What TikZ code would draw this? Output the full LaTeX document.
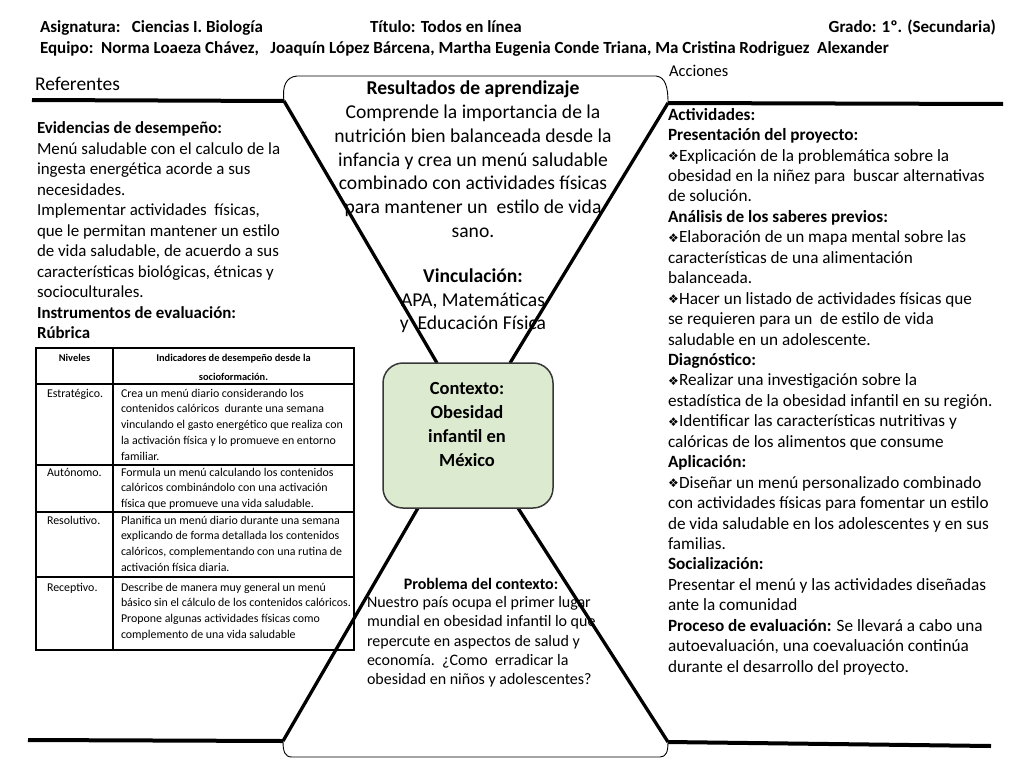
\documentclass[tikz,border=0pt]{standalone}
\usepackage{fontspec}
\setmainfont{Carlito}
\newfontfamily\symfont{DejaVu Sans}
\definecolor{boxgreen}{RGB}{220,234,208}
\definecolor{boxedge}{RGB}{55,55,55}
\newcommand\bul{\raisebox{0.5pt}{\symfont\fontsize{12}{12}\selectfont\char"2756}\hspace{0.3pt}}
\newcommand\tstrut{\rule{0pt}{1em}}
\begin{document}
\begin{tikzpicture}[x=1pt,y=-1pt,
  every node/.style={inner sep=0pt,outer sep=0pt},
  bar/.style={line width=4pt},
  diag/.style={line width=3.3pt},
  capline/.style={line width=0.9pt},
  blockl/.style={anchor=north west,align=left},
  blockc/.style={anchor=north,align=center},
  tab/.style={line width=1.1pt},
  hdr/.style={font=\fontsize{17}{20}\selectfont\bfseries},
  tabtxt/.style={font=\fontsize{11.9}{15.8}\selectfont}]
\useasboundingbox (0,0) rectangle (1024,768);

% header
\node[anchor=base west,hdr] (asig) at (40,33) {Asignatura:\ \ \ Ciencias I. Biología};
\node[anchor=base west,hdr] (tit) at (370,33) {Título: Todos en línea};
\node[anchor=base east,hdr] (grado) at (996,33) {Grado: 1º. (Secundaria)};
\node[anchor=base west,hdr] (equipo) at (40,53) {Equipo:\ \ Norma Loaeza Chávez,\ \ \ Joaquín López Bárcena, Martha Eugenia Conde Triana, Ma Cristina Rodriguez\ \ Alexander};

% geometry coordinates
\coordinate (tl) at (284,101);
\coordinate (tr) at (668,103);
\coordinate (bl) at (283,741);
\coordinate (br) at (668,742);
\coordinate (lineTL) at (32,100);
\coordinate (lineTR) at (1003,104);
\coordinate (lineBL) at (28,740);
\coordinate (lineBR) at (991,746);
\coordinate (ctxTL) at (437,363);
\coordinate (ctxTR) at (510,363);
\coordinate (ctxBL) at (418,508);
\coordinate (ctxBR) at (518,508);

% thick lines
\draw[bar] (lineTL) -- (tl);
\draw[bar] (tr) -- (lineTR);
\draw[bar] (lineBL) -- (bl);
\draw[bar] (br) -- (lineBR);
\draw[diag] (tl) -- (ctxTL);
\draw[diag] (tr) -- (ctxTR);
\draw[diag] (ctxBL) -- (bl);
\draw[diag] (ctxBR) -- (br);

% caps
\draw[capline] (tl) .. controls (282,86) and (286,77) .. (297,76) -- (656,76) .. controls (665,77) and (668,86) .. (tr);
\draw[capline] (bl) .. controls (283,752) and (285,757) .. (292,757) -- (660,757) .. controls (666,757) and (668,752) .. (br);

% context box
\node[draw=boxedge,line width=1.5pt,fill=boxgreen,rounded corners=20pt,minimum width=170pt,minimum height=145pt] (ctx) at (468,435.5) {};
\node[blockc,font=\fontsize{18.5}{24.3}\selectfont\bfseries] (ctxtext) at (467,375.5) {\tstrut Contexto:\\ Obesidad\\ infantil en\\ México};

% left column
\node[anchor=base west,font=\fontsize{19.5}{22}\selectfont] (ref) at (35,90) {Referentes};
\node[blockl,font=\fontsize{16.9}{20.5}\selectfont] (evid) at (37,117) {\tstrut\textbf{Evidencias de desempeño:}\\
Menú saludable con el calculo de la\\
ingesta energética acorde a sus\\
necesidades.\\
Implementar actividades\ \ físicas,\\
que le permitan mantener un estilo\\
de vida saludable, de acuerdo a sus\\
características biológicas, étnicas y\\
socioculturales.\\
\textbf{Instrumentos de evaluación:}\\
\textbf{Rúbrica}};

% table
\draw[tab] (36,348) rectangle (354,650);
\draw[tab] (113,348) -- (113,650);
\draw[tab] (36,384) -- (354,384);
\draw[tab] (36,465) -- (354,465);
\draw[tab] (36,512) -- (354,512);
\draw[tab] (36,577) -- (354,577);
\node[anchor=base,font=\fontsize{10.4}{18}\selectfont\bfseries] (hniv) at (74.5,361) {Niveles};
\node[blockc,font=\fontsize{10.4}{19}\selectfont\bfseries] (hind) at (233.5,350.6) {\tstrut Indicadores de desempeño desde la\\ socioformación.};
\node[anchor=base west,tabtxt] (n1) at (47,397) {Estratégico.};
\node[anchor=base west,tabtxt] (n2) at (47,476) {Autónomo.};
\node[anchor=base west,tabtxt] (n3) at (47,524) {Resolutivo.};
\node[anchor=base west,tabtxt] (n4) at (47,591) {Receptivo.};
\node[blockl,tabtxt] (d1) at (121,385.1) {\tstrut Crea un menú diario considerando los\\
contenidos calóricos\ \ durante una semana\\
vinculando el gasto energético que realiza con\\
la activación física y lo promueve en entorno\\
familiar.};
\node[blockl,tabtxt] (d2) at (121,464.1) {\tstrut Formula un menú calculando los contenidos\\
calóricos combinándolo con una activación\\
física que promueve una vida saludable.};
\node[blockl,tabtxt] (d3) at (121,512.1) {\tstrut Planifica un menú diario durante una semana\\
explicando de forma detallada los contenidos\\
calóricos, complementando con una rutina de\\
activación física diaria.};
\node[blockl,tabtxt] (d4) at (121,579.1) {\tstrut Describe de manera muy general un menú\\
básico sin el cálculo de los contenidos calóricos.\\
Propone algunas actividades físicas como\\
complemento de una vida saludable};

% center top
\node[blockc,font=\fontsize{19.6}{23.8}\selectfont] (res) at (473,75) {\tstrut\textbf{Resultados de aprendizaje}\\
Comprende la importancia de la\\
nutrición bien balanceada desde la\\
infancia y crea un menú saludable\\
combinado con actividades físicas\\
para mantener un\ \ estilo de vida\\
sano.\\[21pt]
\textbf{Vinculación:}\\
APA, Matemáticas\\
y\ \ Educación Física};

% bottom center
\node[anchor=base,font=\fontsize{16}{19.3}\selectfont\bfseries] (prob) at (481,589) {Problema del contexto:};
\node[blockl,font=\fontsize{16}{19.3}\selectfont] (probtext) at (367,591.5) {\tstrut Nuestro país ocupa el primer lugar\\
mundial en obesidad infantil lo que\\
repercute en aspectos de salud y\\
economía.\ \ ¿Como\ \ erradicar la\\
obesidad en niños y adolescentes?};

% right column
\node[anchor=base west,font=\fontsize{16.5}{18}\selectfont] (acc) at (669,77) {Acciones};
\node[blockl,font=\fontsize{17.2}{20.44}\selectfont] (act) at (668,103) {\tstrut\textbf{Actividades:}\\
\textbf{Presentación del proyecto:}\\
\bul Explicación de la problemática sobre la\\
obesidad en la niñez para\ \ buscar alternativas\\
de solución.\\
\textbf{Análisis de los saberes previos:}\\
\bul Elaboración de un mapa mental sobre las\\
características de una alimentación\\
balanceada.\\
\bul Hacer un listado de actividades físicas que\\
se requieren para un\ \ de estilo de vida\\
saludable en un adolescente.\\
\textbf{Diagnóstico:}\\
\bul Realizar una investigación sobre la\\
estadística de la obesidad infantil en su región.\\
\bul Identificar las características nutritivas y\\
calóricas de los alimentos que consume\\
\textbf{Aplicación:}\\
\bul Diseñar un menú personalizado combinado\\
con actividades físicas para fomentar un estilo\\
de vida saludable en los adolescentes y en sus\\
familias.\\
\textbf{Socialización:}\\
Presentar el menú y las actividades diseñadas\\
ante la comunidad\\
\textbf{Proceso de evaluación:} Se llevará a cabo una\\
autoevaluación, una coevaluación continúa\\
durante el desarrollo del proyecto.};
\end{tikzpicture}
\end{document}
